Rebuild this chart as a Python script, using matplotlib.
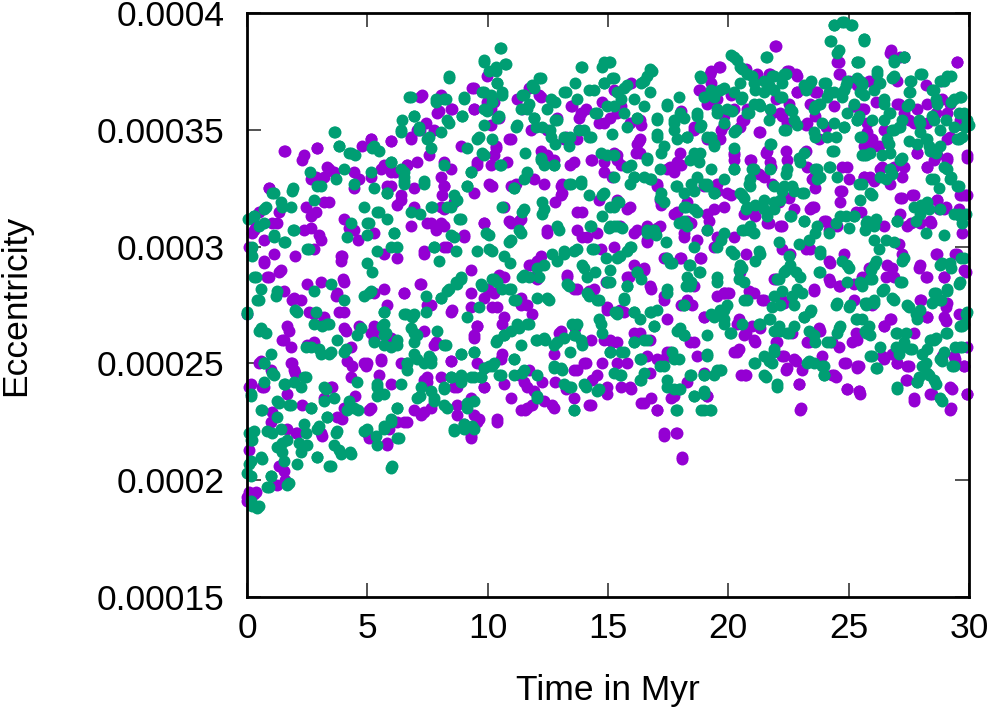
import matplotlib
matplotlib.use("Agg")
import matplotlib.pyplot as plt
import numpy as np

# eccentricity values are in units of 1e-6, time in Myr
violet_points = [
    (0.0, 271), (0.0, 193),
    (1.6, 341), (2.3, 337), (2.92, 342), (3.4, 333), (2.85, 330), (4.65, 329), (0.91, 325), (0.5, 315),
    (0.22, 306), (0.36, 309), (1.05, 310), (1.33, 315), (2.44, 317), (2.85, 315), (2.65, 308), (3.4, 319),
    (4.24, 308), (4.6, 303), (0.08, 300), (0.7, 293), (0.91, 287), (2.0, 296), (3.0, 305), (3.96, 296),
    (4.0, 286), (1.33, 289), (1.88, 277), (2.23, 277), (2.58, 272), (3.68, 279), (3.82, 272), (4.1, 264),
    (4.65, 266), (1.75, 264), (1.47, 260), (2.78, 259), (1.88, 250), (2.0, 246), (4.38, 249), (4.93, 249),
    (0.5, 250), (0.08, 240), (0.64, 240), (2.3, 232), (3.54, 240), (4.5, 236), (3.96, 226), (1.05, 229),
    (2.02, 220), (3.13, 219), (0.08, 213), (1.33, 206), (1.6, 200), (0.08, 195), (0.36, 195),
    (9.36, 368), (7.2, 364), (7.98, 358), (8.53, 359), (9.43, 359), (9.98, 362), (5.14, 346), (5.97, 345),
    (6.8, 347), (7.2, 350), (7.77, 350), (7.56, 339), (6.66, 335), (7.08, 336), (5.69, 335), (6.17, 332),
    (5.14, 330), (8.05, 330), (9.57, 335), (10.05, 327), (8.18, 326), (8.11, 322), (8.6, 319), (8.05, 317),
    (5.97, 326), (6.38, 322), (6.25, 318), (6.94, 317), (9.43, 323), (7.63, 310), (7.84, 307), (8.18, 309),
    (9.85, 310), (7.35, 298), (8.18, 300), (9.0, 305), (6.25, 295), (5.69, 297), (9.29, 290), (9.29, 280),
    (7.2, 284), (6.52, 280), (5.28, 280), (5.83, 275), (8.53, 273), (7.63, 275), (7.84, 259), (9.57, 266),
    (9.43, 262), (10.0, 282), (5.28, 266), (5.14, 263), (5.28, 260), (5.55, 252), (5.0, 250), (6.38, 250),
    (5.48, 245), (7.35, 243), (7.49, 242), (8.46, 251), (8.6, 240), (9.29, 235), (9.85, 240), (9.64, 226),
    (8.74, 228), (6.94, 230), (6.52, 225), (5.9, 222), (5.07, 230), (5.07, 218), (5.83, 216), (7.35, 229),
    (9.29, 219),
    (11.71, 368), (12.13, 365), (11.43, 359), (10.26, 362), (10.47, 355), (10.33, 342), (10.88, 346),
    (10.26, 339), (13.51, 360), (13.79, 355), (14.07, 359), (14.62, 353), (15.1, 355), (13.79, 350),
    (13.24, 347), (12.2, 341), (12.47, 339), (13.44, 335), (14.34, 337), (14.83, 332), (15.17, 330),
    (10.19, 326), (11.16, 327), (13.1, 327), (12.82, 319), (13.1, 323), (13.93, 315), (14.62, 320),
    (10.88, 311), (11.3, 311), (12.47, 307), (13.72, 307), (13.93, 304), (10.47, 288), (10.67, 287),
    (12.06, 286), (11.71, 292), (13.3, 287), (13.58, 282), (14.2, 281), (14.9, 285), (10.19, 274),
    (10.6, 267), (11.37, 275), (11.85, 271), (12.96, 263), (13.65, 265), (14.97, 273), (15.17, 259),
    (14.76, 250), (14.07, 250), (13.72, 247), (10.6, 254), (11.3, 245), (11.71, 247), (12.27, 242),
    (12.82, 242), (11.57, 230), (11.85, 232), (12.68, 232), (13.24, 239), (14.34, 243), (14.97, 237),
    (14.2, 232), (10.4, 226),
    (19.61, 377), (19.27, 375), (18.78, 367), (19.27, 370), (19.4, 363), (20.1, 365), (15.25, 367),
    (15.94, 370), (15.53, 360), (16.36, 352), (18.02, 358), (18.57, 350), (19.68, 350), (19.82, 352),
    (20.24, 339), (15.39, 339), (15.53, 335), (16.15, 340), (16.29, 345), (17.47, 333), (17.74, 332),
    (18.02, 335), (19.0, 326), (19.54, 327), (20.1, 322), (17.05, 327), (17.19, 318), (17.88, 315),
    (18.44, 310), (19.4, 316), (19.2, 311), (15.8, 316), (16.22, 307), (16.64, 303), (17.05, 308),
    (18.16, 304), (18.85, 295), (19.4, 300), (17.4, 295), (18.02, 295), (16.08, 292), (16.5, 291),
    (15.87, 287), (16.77, 282), (17.33, 279), (18.02, 275), (18.5, 275), (18.99, 270), (19.82, 280),
    (20.03, 280), (20.51, 267), (15.39, 259), (16.08, 263), (16.64, 253), (17.05, 252), (17.47, 255),
    (18.57, 259), (19.0, 246), (20.24, 255), (15.8, 250), (15.53, 240), (15.94, 239), (16.36, 233),
    (17.05, 230), (16.77, 235), (17.6, 235), (19.13, 236), (20.51, 245), (17.33, 220), (17.81, 220),
    (18.09, 210),
    (21.97, 386), (20.72, 376), (21.69, 374), (22.52, 375), (22.8, 374), (24.6, 379), (24.6, 374),
    (25.01, 371), (25.36, 369), (23.62, 366), (22.86, 366), (21.97, 363), (22.52, 361), (20.79, 359),
    (21.83, 357), (22.24, 356), (23.21, 352), (23.62, 356), (24.04, 351), (25.22, 360), (25.56, 359),
    (20.58, 354), (21.27, 349), (22.38, 341), (21.55, 340), (23.21, 341), (23.76, 346), (20.93, 337),
    (21.27, 331), (21.76, 334), (21.83, 327), (22.1, 319), (22.52, 321), (23.49, 329), (23.62, 325),
    (24.73, 334), (25.01, 329), (24.73, 324), (25.63, 330), (23.49, 317), (21.13, 313), (21.69, 310),
    (22.24, 309), (24.04, 311), (24.18, 307), (25.29, 315), (22.24, 299), (23.21, 299), (24.18, 294),
    (20.72, 297), (21.97, 286), (23.56, 281), (24.18, 286), (24.6, 283), (25.22, 284), (20.86, 281),
    (21.41, 277), (22.24, 277), (20.44, 269), (20.99, 266), (20.72, 263), (21.13, 259), (21.97, 259),
    (22.66, 263), (23.35, 259), (23.76, 265), (24.32, 259), (24.6, 257), (25.15, 259), (25.29, 263),
    (20.44, 256), (22.24, 253), (22.8, 251), (23.9, 253), (24.87, 250), (25.36, 248), (20.72, 245),
    (22.38, 247), (23.07, 247), (24.32, 245), (24.46, 244), (22.93, 241), (24.94, 239), (25.42, 238),
    (23.0, 231),
    (26.75, 384), (27.3, 381), (29.51, 379), (25.85, 371), (27.02, 371), (28.2, 369), (28.82, 371),
    (26.12, 362), (27.09, 361), (28.27, 361), (28.89, 363), (25.64, 359), (27.51, 354), (28.62, 357),
    (25.78, 349), (25.98, 346), (26.26, 343), (25.71, 341), (27.85, 340), (28.55, 337), (29.1, 338),
    (28.27, 334), (29.93, 338), (26.88, 334), (26.4, 334), (27.23, 330), (25.64, 330), (26.05, 328),
    (27.23, 321), (27.65, 322), (28.68, 320), (29.03, 317), (29.72, 322), (29.93, 322), (25.5, 315),
    (27.58, 310), (28.41, 310), (28.75, 316), (29.58, 316), (29.72, 306), (27.09, 301), (27.23, 297),
    (27.92, 291), (28.2, 287), (28.62, 297), (28.96, 287), (29.44, 297), (29.86, 289), (25.85, 291),
    (26.54, 287), (26.82, 291), (25.57, 287), (25.98, 275), (27.99, 277), (28.27, 270), (29.03, 274),
    (29.03, 268), (29.58, 271), (26.47, 266), (26.75, 269), (27.72, 263), (29.93, 257), (26.4, 253),
    (26.82, 254), (27.02, 250), (27.51, 249), (28.89, 253), (29.44, 252), (25.43, 249), (29.79, 249),
    (27.37, 243), (28.48, 237), (29.31, 239), (29.93, 237), (25.43, 238), (27.72, 234), (29.24, 231),
]

violet_points_upper = [
    (1.54, 341), (2.37, 339), (2.92, 342), (3.34, 334), (3.62, 332), (3.2, 330), (2.65, 329), (0.91, 325),
    (4.45, 332), (5.14, 346), (4.79, 343), (5.97, 345), (5.55, 333), (5.97, 332), (6.8, 346), (7.08, 350),
    (6.66, 335), (7.42, 353), (7.28, 365), (8.05, 365), (8.46, 359), (7.91, 357), (9.43, 368), (9.43, 359),
    (9.99, 373), (10.12, 352), (10.12, 359), (10.33, 343), (10.82, 336), (10.96, 346), (11.23, 363),
    (12.2, 364), (11.79, 350), (12.48, 350), (12.9, 355), (12.76, 337), (13.45, 360), (13.86, 357),
    (14.76, 362), (14.83, 353), (13.72, 346), (13.17, 346), (13.59, 336), (14.28, 337), (14.83, 336),
    (8.18, 336), (8.18, 326), (8.46, 333), (8.88, 343), (9.57, 336), (10.12, 335), (10.12, 326),
    (10.96, 326), (8.18, 316), (8.05, 310), (7.49, 310), (6.94, 325), (6.38, 320), (5.83, 326),
    (4.45, 325), (4.03, 312), (4.45, 307), (3.2, 319), (2.65, 313), (2.37, 307), (1.26, 310), (0.29, 307),
    (0.71, 303), (0.15, 299), (1.12, 297), (2.78, 299), (3.06, 303), (3.89, 296), (5.28, 306), (6.8, 309),
    (7.35, 297), (8.32, 300), (9.0, 304), (9.85, 310), (10.68, 317), (10.96, 310), (11.37, 312),
    (11.93, 329), (12.34, 327), (13.03, 322), (13.03, 326), (13.72, 315), (14.14, 304), (14.56, 306),
    (14.69, 299), (12.48, 306), (12.2, 296),
    (21.95, 386), (19.67, 377), (19.25, 374), (18.84, 367), (19.12, 361), (19.53, 363), (19.81, 356),
    (20.22, 359), (20.64, 354), (20.5, 351), (21.19, 374), (21.75, 374), (22.44, 375), (22.85, 373),
    (22.85, 366), (23.41, 361), (23.69, 366), (22.16, 357), (22.44, 353), (23.27, 353), (24.38, 360),
    (24.52, 379), (24.66, 374), (25.21, 360), (25.49, 359), (25.76, 353), (25.76, 346), (26.04, 343),
    (26.46, 350), (26.73, 383), (27.15, 381), (27.01, 361), (27.29, 357), (27.84, 359), (27.7, 353),
    (28.26, 353), (29.5, 379), (29.23, 361), (29.09, 357), (29.64, 354), (29.23, 347), (29.09, 346),
    (29.92, 339), (28.67, 339), (27.84, 340), (28.26, 334), (29.09, 337), (27.29, 334), (26.32, 333),
    (25.9, 330), (25.62, 343), (26.73, 327), (27.15, 321), (27.7, 322), (28.67, 320), (28.95, 316),
    (29.64, 322), (29.85, 322), (27.98, 310), (28.4, 311), (24.93, 334), (24.66, 324), (24.66, 319),
    (23.55, 330), (23.55, 317), (23.96, 311), (23.27, 334), (22.44, 337), (21.75, 336), (21.61, 341),
    (21.33, 349), (20.92, 337), (21.47, 330), (20.22, 340), (20.22, 337), (19.67, 346), (19.12, 346),
    (18.56, 351), (18.7, 339), (18.01, 340), (17.59, 334), (17.87, 336), (16.35, 346), (16.21, 344),
    (15.93, 353), (16.35, 354), (15.38, 357), (15.38, 337), (15.24, 340), (16.35, 340), (17.04, 326),
    (17.18, 320), (16.62, 309), (17.18, 309), (17.73, 314), (18.28, 319), (18.28, 311), (19.12, 314),
    (19.53, 324), (19.95, 323), (19.81, 317), (20.64, 314), (21.05, 317), (21.61, 310), (22.16, 309),
    (22.71, 316), (23.41, 316), (24.52, 309), (15.38, 320), (15.93, 317), (15.52, 309), (16.07, 306),
    (19.12, 307), (19.53, 304), (18.15, 306), (18.7, 303), (20.22, 304), (26.46, 309), (27.15, 314),
    (27.43, 309),
]

violet_points_lower = [
    (0.71, 294), (1.4, 290), (0.84, 287), (2.51, 284), (3.06, 285), (3.75, 280), (4.03, 285), (1.95, 278),
    (1.54, 281), (2.78, 271), (3.2, 270), (1.68, 266), (1.54, 260), (1.81, 257), (2.51, 258), (0.57, 251),
    (1.81, 250), (1.95, 247), (0.98, 247), (0.71, 240), (0.15, 241), (1.68, 237), (3.48, 240), (4.31, 244),
    (4.17, 251), (4.31, 257), (4.86, 250), (4.03, 265), (5.28, 264), (5.55, 251), (5.97, 261), (5.97, 241),
    (5.14, 231), (4.03, 231), (3.75, 227), (3.2, 235), (2.09, 220), (3.06, 220), (1.68, 222), (0.98, 225),
    (1.54, 204), (1.26, 198), (0.29, 194), (0.01, 191), (5.83, 215), (5.0, 220), (6.66, 225), (7.22, 228),
    (7.49, 244), (8.05, 244), (8.46, 251), (8.74, 232), (9.29, 218), (9.43, 228), (9.57, 225), (9.02, 224),
    (10.4, 225), (8.74, 240), (9.85, 240), (9.57, 250), (9.43, 261), (9.57, 266), (9.85, 278), (10.26, 280),
    (10.4, 274), (10.68, 270), (11.37, 278), (11.65, 275), (11.93, 287), (12.06, 294), (11.79, 292),
    (13.31, 288), (13.72, 282), (14.42, 282), (14.97, 274), (14.28, 260), (14.83, 260), (13.03, 264),
    (12.76, 254), (14.0, 250), (13.59, 247), (14.56, 245), (14.97, 240), (13.59, 235), (14.28, 232),
    (12.76, 231), (12.34, 234), (11.65, 231), (11.37, 230), (11.93, 238), (11.51, 242), (11.65, 240),
    (10.68, 241), (10.96, 235), (9.85, 248), (10.54, 252), (7.35, 264), (7.77, 258), (8.46, 272),
    (9.3, 274), (7.22, 284), (6.52, 280), (7.49, 275), (7.63, 231), (6.25, 225), (4.03, 272), (5.69, 282),
    (3.89, 294), (3.06, 267),
    (15.24, 300), (16.62, 302), (15.79, 287), (16.48, 290), (16.76, 283), (17.32, 295), (18.01, 295),
    (18.84, 295), (18.56, 283), (18.28, 277), (17.32, 277), (17.45, 269), (16.35, 263), (16.76, 260),
    (15.51, 273), (15.65, 272), (15.1, 260), (15.38, 250), (15.93, 240), (16.48, 233), (17.04, 230),
    (16.76, 246), (17.32, 252), (17.59, 255), (18.42, 259), (18.7, 253), (18.28, 242), (17.73, 236),
    (19.12, 236), (17.32, 219), (17.87, 220), (18.08, 209), (18.98, 270), (19.53, 279), (19.95, 280),
    (20.36, 267), (20.36, 255), (20.71, 245), (20.64, 262), (21.05, 260), (21.33, 265), (20.92, 280),
    (21.47, 277), (21.89, 286), (22.3, 276), (22.02, 259), (22.3, 253), (22.44, 248), (22.71, 252),
    (22.99, 230), (22.92, 241), (23.27, 259), (23.55, 282), (23.83, 264), (24.24, 285), (24.38, 245),
    (24.8, 297), (24.8, 250), (24.93, 239), (25.21, 277), (25.35, 260), (25.49, 237), (25.35, 249),
    (26.46, 266), (26.73, 269), (26.46, 252), (27.01, 250), (27.43, 249), (27.43, 243), (27.7, 235),
    (28.4, 237), (29.23, 230), (29.23, 240), (29.92, 237), (29.78, 249), (29.37, 253), (28.95, 270),
    (29.09, 276), (27.98, 277), (28.26, 270), (27.98, 292), (28.67, 297), (29.5, 297), (29.78, 290),
    (28.95, 287), (28.26, 287), (26.59, 292), (26.87, 287), (25.76, 287), (24.66, 283), (24.24, 293),
    (22.58, 297), (23.41, 299), (21.05, 280), (20.5, 289), (19.81, 280),
]

green_points = [
    (3.64, 349), (3.82, 343), (4.24, 340), (4.5, 339), (2.6, 332), (2.9, 326), (1.9, 325), (1.05, 323),
    (0.29, 313), (0.78, 317), (1.47, 317), (0.5, 309), (1.12, 305), (1.6, 302), (1.9, 307), (2.58, 299),
    (0.22, 296), (0.36, 287), (0.5, 277), (0.0, 272), (1.19, 279), (2.0, 273), (2.85, 272), (3.13, 266),
    (3.4, 267), (0.5, 264), (0.78, 263), (2.44, 257), (3.0, 256), (3.4, 254), (4.1, 256), (0.7, 250),
    (1.05, 246), (1.6, 241), (2.44, 244), (3.27, 239), (4.24, 234), (4.6, 230), (0.15, 236), (0.64, 230),
    (1.33, 233), (1.75, 232), (2.65, 231), (3.34, 227), (0.08, 220), (0.22, 217), (1.05, 220), (1.47, 216),
    (2.16, 216), (2.44, 220), (3.0, 223), (3.68, 220), (3.82, 213), (4.3, 212), (0.08, 207), (0.64, 209),
    (1.47, 212), (1.75, 199), (0.98, 202), (2.92, 210), (3.4, 206), (0.22, 189), (0.5, 189), (0.91, 197),
    (0.0, 203), (0.05, 312), (0.2, 300),
    (9.85, 380), (8.39, 373), (6.8, 364), (7.84, 363), (8.18, 363), (9.0, 364), (9.78, 366), (10.05, 375),
    (6.45, 354), (6.94, 356), (7.15, 350), (7.56, 347), (8.05, 349), (8.39, 353), (8.95, 356), (9.64, 347),
    (9.98, 358), (6.38, 349), (5.28, 343), (5.48, 341), (5.97, 336), (6.52, 332), (5.14, 332), (5.28, 325),
    (5.83, 323), (6.52, 328), (7.35, 328), (9.15, 342), (9.29, 332), (9.78, 340), (9.15, 326), (8.6, 322),
    (8.32, 317), (7.7, 317), (7.2, 314), (6.8, 315), (5.48, 315), (5.83, 312), (5.07, 310), (5.0, 305),
    (6.1, 306), (6.25, 300), (5.41, 298), (7.77, 300), (8.46, 305), (8.88, 312), (7.98, 294), (8.67, 298),
    (10.05, 305), (9.57, 298), (5.0, 293), (5.2, 289), (5.07, 280), (7.42, 279), (8.05, 278), (8.39, 282),
    (8.88, 286), (9.78, 283), (10.26, 286), (8.67, 285), (5.69, 272), (6.59, 271), (6.87, 270), (7.42, 272),
    (9.15, 270), (9.64, 274), (5.62, 266), (5.76, 263), (5.28, 259), (5.69, 258), (6.25, 260), (6.94, 263),
    (6.94, 259), (8.25, 258), (8.88, 254), (9.43, 255), (6.66, 250), (7.08, 252), (7.56, 253), (7.63, 250),
    (6.66, 247), (8.46, 244), (8.88, 245), (9.29, 244), (9.71, 244), (10.05, 249), (5.41, 241), (5.41, 236),
    (6.38, 241), (7.2, 236), (7.77, 235), (8.18, 239), (8.18, 232), (9.15, 233), (9.0, 222), (9.36, 223),
    (8.6, 222), (6.25, 231), (5.97, 226), (5.69, 223), (5.0, 222), (5.35, 219), (6.31, 218), (6.04, 206),
    (10.53, 385), (10.33, 377), (10.74, 378), (10.4, 370), (10.6, 365), (12.13, 372), (11.85, 369),
    (11.43, 365), (13.93, 377), (13.65, 370), (14.76, 377), (15.04, 379), (15.17, 372), (14.83, 370),
    (14.2, 367), (13.24, 366), (12.82, 362), (12.47, 359), (11.92, 355), (11.71, 361), (11.37, 359),
    (11.16, 351), (10.47, 356), (10.19, 362), (10.19, 346), (12.0, 351), (12.27, 351), (12.82, 354),
    (13.44, 347), (13.79, 350), (14.2, 347), (14.48, 357), (14.97, 360), (15.17, 348), (14.69, 340),
    (14.97, 339), (10.53, 335), (11.57, 340), (12.2, 338), (12.33, 335), (12.75, 335), (12.82, 344),
    (12.61, 350), (13.37, 343), (11.5, 329), (11.09, 325), (12.27, 319), (13.37, 327), (13.86, 328),
    (14.2, 322), (14.83, 323), (15.1, 317), (10.6, 317), (11.43, 315), (11.3, 307), (12.27, 314),
    (12.96, 307), (14.27, 309), (14.76, 313), (15.04, 308), (10.88, 302), (10.19, 298), (10.67, 296),
    (10.95, 293), (11.43, 287), (11.71, 287), (12.68, 297), (13.17, 297), (13.58, 298), (14.34, 299),
    (14.9, 295), (13.93, 292), (14.13, 287), (14.48, 289), (14.97, 285), (10.19, 286), (10.6, 282),
    (10.88, 282), (11.16, 277), (12.13, 287), (12.33, 292), (12.54, 277), (13.37, 283), (14.2, 279),
    (14.62, 277), (15.31, 272), (10.33, 259), (10.67, 262), (11.3, 265), (11.71, 267), (12.0, 260),
    (12.4, 260), (12.89, 259), (13.51, 267), (13.65, 262), (13.44, 255), (13.93, 258), (14.62, 269),
    (14.76, 263), (15.1, 255), (10.19, 249), (10.47, 245), (11.09, 252), (11.43, 246), (12.75, 249),
    (13.1, 247), (13.37, 240), (12.06, 236), (13.58, 230), (14.62, 239), (14.07, 240),
    (16.84, 375), (16.64, 373), (20.1, 382), (20.37, 380), (18.85, 372), (15.25, 372), (15.67, 368),
    (16.36, 370), (15.53, 363), (16.5, 360), (17.47, 360), (17.95, 364), (17.05, 355), (17.74, 354),
    (18.16, 355), (18.71, 356), (19.27, 367), (19.82, 368), (20.51, 363), (19.54, 357), (20.17, 358),
    (15.8, 351), (16.22, 355), (17.05, 347), (17.74, 350), (18.3, 347), (18.85, 352), (19.27, 347),
    (19.4, 343), (20.3, 350), (20.24, 342), (15.94, 335), (16.64, 338), (17.19, 340), (18.57, 340),
    (18.78, 336), (19.27, 333), (20.24, 333), (16.08, 330), (16.77, 329), (17.81, 326), (18.44, 327),
    (19.0, 327), (19.4, 323), (17.19, 323), (17.33, 319), (18.23, 317), (18.71, 315), (17.95, 310),
    (19.13, 307), (15.46, 319), (15.25, 309), (15.6, 308), (16.64, 307), (16.98, 305), (17.4, 302),
    (18.57, 300), (15.94, 300), (15.8, 298), (15.39, 295), (17.67, 293), (18.37, 292), (18.78, 289),
    (19.68, 303), (20.1, 298), (19.54, 300), (20.44, 290), (19.54, 287), (15.8, 283), (16.22, 289),
    (16.36, 286), (15.67, 277), (16.08, 272), (15.39, 272), (17.47, 280), (18.16, 275), (18.23, 283),
    (18.44, 285), (16.91, 266), (16.77, 272), (17.88, 264), (18.16, 262), (19.27, 271), (19.82, 273),
    (19.82, 267), (20.1, 263), (16.08, 259), (16.5, 260), (15.53, 255), (16.36, 252), (16.36, 243),
    (17.33, 249), (17.67, 255), (17.95, 252), (18.44, 245), (19.13, 254), (19.4, 245), (19.68, 247),
    (19.0, 245), (17.47, 240), (17.95, 239), (18.57, 236), (19.0, 238), (17.81, 230), (18.85, 230),
    (19.27, 230), (15.53, 245),
    (24.39, 395), (24.73, 396), (25.08, 395), (24.25, 388), (25.63, 389), (24.6, 384), (25.36, 379),
    (21.55, 381), (20.58, 376), (20.99, 373), (21.83, 373), (22.38, 374), (21.13, 367), (21.69, 369),
    (22.24, 370), (23.42, 371), (24.04, 370), (24.87, 369), (25.36, 372), (25.56, 369), (23.21, 367),
    (24.18, 366), (24.73, 364), (20.58, 364), (21.27, 361), (20.86, 357), (21.69, 354), (22.66, 358),
    (23.76, 361), (23.62, 360), (25.36, 354), (22.24, 364), (23.9, 353), (22.38, 350), (22.86, 352),
    (24.8, 351), (24.46, 347), (25.56, 347), (23.62, 347), (21.76, 344), (24.32, 341), (25.56, 339),
    (22.93, 338), (20.99, 333), (20.86, 327), (22.38, 331), (23.62, 333), (23.69, 329), (24.18, 334),
    (24.53, 330), (22.24, 324), (22.66, 326), (23.07, 323), (25.42, 327), (20.58, 322), (20.72, 316),
    (21.13, 318), (21.48, 316), (21.9, 319), (22.59, 313), (23.14, 311), (23.62, 306), (24.18, 306),
    (24.46, 310), (24.87, 313), (25.22, 313), (25.01, 308), (25.7, 307), (20.58, 307), (20.86, 307),
    (21.06, 306), (22.1, 302), (22.93, 301), (23.35, 303), (23.83, 298), (21.27, 298), (21.13, 294),
    (22.52, 296), (22.8, 289), (22.38, 290), (22.1, 286), (23.76, 289), (24.73, 294), (25.01, 291),
    (20.58, 291), (20.44, 286), (20.65, 277), (21.83, 274), (22.24, 281), (22.66, 279), (23.07, 280),
    (24.46, 275), (25.01, 274), (25.29, 269), (25.7, 276), (20.58, 267), (21.27, 267), (21.69, 269),
    (22.1, 266), (22.52, 263), (23.14, 270), (23.42, 273), (23.35, 264), (23.62, 259), (24.11, 259),
    (24.6, 265), (25.7, 264), (21.13, 250), (21.69, 251), (21.83, 250), (23.35, 251), (23.9, 249),
    (23.97, 245), (21.55, 244), (22.03, 241),
    (25.64, 388), (25.43, 379), (26.19, 375), (26.88, 380), (27.3, 381), (26.82, 372), (27.58, 371),
    (28.06, 374), (25.57, 370), (26.26, 370), (27.51, 366), (28.48, 367), (28.96, 371), (29.24, 373),
    (25.64, 365), (26.47, 361), (27.51, 361), (28.62, 363), (29.24, 362), (29.65, 364), (26.68, 357),
    (25.98, 354), (25.43, 356), (27.23, 354), (27.92, 354), (28.48, 356), (29.03, 354), (29.58, 357),
    (29.93, 354), (30.0, 352), (26.82, 350), (27.09, 351), (27.51, 345), (28.2, 346), (28.34, 343),
    (29.58, 346), (29.72, 347), (25.71, 339), (26.4, 339), (26.68, 344), (27.23, 338), (28.62, 340),
    (28.96, 334), (29.24, 330), (29.58, 326), (26.54, 329), (26.82, 331), (28.41, 329), (28.75, 325),
    (25.57, 327), (25.98, 322), (27.99, 318), (28.34, 316), (29.58, 314), (29.86, 314), (29.72, 310),
    (25.71, 310), (26.12, 312), (27.02, 311), (27.79, 311), (28.2, 306), (28.96, 305), (26.05, 303),
    (26.54, 303), (26.88, 302), (26.26, 299), (26.12, 294), (27.23, 294), (25.91, 290), (28.89, 293),
    (29.24, 291), (29.65, 295), (29.58, 284), (25.57, 283), (25.98, 286), (26.4, 281), (26.82, 278),
    (27.23, 285), (28.62, 280), (29.1, 281), (25.71, 275), (26.05, 277), (27.51, 274), (27.79, 271),
    (28.48, 276), (28.82, 277), (29.86, 271), (29.72, 266), (25.57, 269), (25.71, 263), (25.85, 266),
    (26.95, 263), (27.23, 257), (27.37, 263), (28.06, 254), (28.41, 260), (28.62, 261), (29.03, 263),
    (29.44, 257), (29.72, 257), (26.95, 257), (27.09, 254), (25.98, 253), (26.12, 248), (27.65, 256),
    (28.06, 249), (28.2, 250), (28.89, 251), (27.92, 244), (28.34, 245), (28.62, 241), (27.02, 240),
    (28.89, 234), (27.85, 242), (29.31, 249),
]

green_points_upper = [
    (3.62, 349), (3.82, 343), (4.31, 340), (4.03, 333), (4.45, 327), (3.68, 329), (5.21, 342), (5.97, 336),
    (6.38, 333), (6.52, 327), (6.38, 350), (6.94, 356), (7.15, 351), (7.49, 346), (7.63, 342), (6.73, 364),
    (7.84, 362), (8.25, 363), (8.32, 354), (8.95, 356), (9.02, 363), (8.39, 372), (9.85, 379), (10.54, 385),
    (10.75, 378), (10.33, 375), (10.4, 370), (9.85, 366), (10.12, 365), (10.61, 366), (9.85, 359),
    (10.4, 355), (9.85, 352), (9.57, 346), (11.23, 352), (11.65, 359), (11.93, 368), (12.2, 372),
    (11.51, 365), (11.93, 355), (12.62, 363), (12.9, 354), (13.17, 366), (12.62, 347), (13.17, 347),
    (13.72, 363), (14.42, 367), (13.86, 377), (14.83, 379), (14.83, 370), (14.56, 357), (14.0, 350),
    (14.28, 347), (12.2, 337), (12.76, 335), (11.65, 332), (11.09, 325), (9.85, 339), (10.54, 335),
    (9.16, 326), (9.3, 332), (8.74, 320), (8.46, 317), (7.63, 317), (8.18, 335), (7.35, 327), (6.52, 330),
    (5.83, 323), (5.41, 315), (4.86, 317), (5.0, 310), (4.31, 310), (2.78, 320), (3.06, 326), (1.88, 324),
    (1.12, 323), (1.4, 319), (1.81, 317), (0.71, 316), (0.29, 313), (0.71, 310), (1.12, 304), (1.95, 307),
    (1.54, 302), (2.51, 299), (4.17, 304), (5.97, 300), (6.11, 306), (8.6, 304), (7.77, 300), (8.81, 312),
    (9.92, 306), (10.06, 299), (10.96, 303), (11.51, 316), (11.37, 306), (12.34, 316), (12.9, 309),
    (13.17, 298), (13.72, 299), (14.42, 299), (14.76, 322), (14.28, 309), (13.45, 327), (13.86, 327),
    (15.1, 379), (16.76, 376), (16.48, 371), (15.79, 369), (15.38, 366), (16.76, 366), (16.07, 363),
    (15.24, 360), (15.65, 357), (16.21, 355), (17.04, 354), (17.45, 361), (18.01, 357), (17.73, 353),
    (17.04, 348), (17.87, 346), (18.28, 347), (18.7, 357), (18.84, 351), (19.12, 347), (19.39, 344),
    (18.84, 340), (18.42, 337), (20.22, 381), (20.5, 377), (20.78, 374), (20.5, 370), (20.22, 366),
    (19.67, 367), (19.39, 364), (18.98, 364), (18.84, 373), (19.53, 359), (19.95, 359), (19.81, 353),
    (20.22, 349), (20.78, 357), (21.05, 361), (21.05, 370), (21.47, 371), (21.89, 373), (22.3, 374),
    (21.47, 366), (21.89, 367), (22.16, 364), (21.61, 381), (21.33, 360), (21.75, 359), (22.58, 359),
    (22.71, 354), (22.3, 350), (23.13, 369), (23.41, 370), (23.96, 370), (24.1, 364), (23.83, 361),
    (23.55, 359), (24.38, 366), (24.8, 367), (24.93, 371), (24.52, 383), (24.24, 388), (24.38, 395),
    (24.8, 396), (25.14, 395), (25.63, 389), (25.35, 379), (25.49, 371), (25.49, 366), (25.21, 361),
    (24.93, 357), (24.8, 351), (24.38, 353), (25.35, 354), (26.04, 367), (26.18, 374), (26.32, 370),
    (26.87, 379), (27.29, 381), (26.87, 373), (26.46, 363), (26.73, 357), (26.46, 354), (26.87, 350),
    (27.15, 351), (27.57, 371), (27.98, 374), (27.57, 366), (27.43, 360), (27.98, 353), (27.98, 349),
    (28.26, 346), (28.53, 367), (28.81, 371), (29.09, 373), (28.67, 361), (28.53, 354), (28.81, 350),
    (29.37, 363), (29.64, 364), (29.78, 357), (29.85, 351), (29.5, 346), (29.37, 351), (28.81, 343),
    (28.4, 341), (27.84, 344), (27.15, 337), (26.73, 340), (26.59, 346), (26.73, 333), (25.9, 340),
    (25.62, 339), (25.49, 347), (24.1, 347), (24.38, 341), (23.55, 349), (23.13, 340), (23.69, 333),
    (23.83, 330), (24.24, 334), (22.99, 336), (22.44, 333), (22.3, 326), (22.71, 324), (23.13, 323),
    (21.75, 344), (21.75, 333), (21.89, 326), (21.05, 333), (20.92, 329), (20.92, 326), (20.22, 333),
    (19.81, 329), (19.39, 323), (19.12, 327), (18.56, 324), (18.15, 323), (17.87, 326), (17.18, 321),
    (16.76, 329), (16.48, 330), (16.07, 330), (15.93, 327), (15.79, 334), (15.24, 339), (15.24, 330),
    (15.24, 317), (15.38, 319), (16.62, 337), (17.32, 343), (17.18, 333), (18.7, 330), (20.5, 323),
    (20.78, 317), (20.64, 321), (21.47, 320), (22.16, 320), (21.89, 316), (21.61, 313), (22.58, 313),
    (23.13, 311), (23.69, 309), (24.66, 313), (25.21, 313), (25.76, 311), (26.04, 309), (27.01, 311),
    (25.49, 320), (25.9, 323), (26.32, 330), (27.7, 317), (27.98, 314), (28.26, 319), (28.81, 316),
    (29.37, 314), (29.64, 313), (29.5, 326), (29.23, 329), (28.53, 329), (29.09, 333), (18.15, 317),
    (18.28, 309), (18.15, 311), (16.9, 307), (16.62, 306), (15.38, 309), (15.1, 309), (18.56, 316),
    (19.12, 326), (19.81, 306), (20.92, 309), (20.64, 307),
]

green_points_lower = [
    (0.29, 287), (0.57, 282), (0.43, 277), (1.26, 281), (2.78, 281), (3.48, 284), (4.03, 277), (4.86, 279),
    (5.14, 281), (2.09, 272), (2.78, 267), (3.34, 267), (3.75, 260), (2.65, 257), (3.06, 254), (3.48, 255),
    (4.03, 255), (4.58, 262), (4.72, 265), (5.69, 272), (5.69, 267), (5.69, 262), (6.25, 258), (5.97, 257),
    (6.52, 271), (6.94, 271), (6.8, 265), (7.08, 262), (6.66, 250), (6.94, 254), (7.63, 252), (7.35, 250),
    (7.91, 264), (8.18, 258), (8.88, 287), (8.32, 281), (8.05, 278), (8.74, 284), (9.71, 284), (10.4, 285),
    (10.96, 282), (11.09, 277), (12.06, 278), (12.48, 278), (11.51, 288), (12.06, 291), (12.9, 294),
    (14.0, 291), (13.31, 284), (14.14, 280), (14.56, 277), (14.97, 285), (14.69, 267), (13.72, 267),
    (13.59, 262), (13.86, 260), (13.17, 261), (12.76, 258), (12.34, 261), (12.06, 260), (11.65, 267),
    (11.23, 267), (10.96, 264), (10.68, 262), (10.4, 260), (11.37, 258), (11.09, 252), (8.88, 254),
    (9.43, 255), (9.85, 248), (10.26, 250), (10.54, 245), (11.09, 245), (11.51, 247), (12.06, 245),
    (12.76, 248), (13.03, 248), (13.17, 241), (13.45, 240), (14.0, 241), (14.56, 238), (12.06, 235),
    (13.59, 230), (8.46, 244), (8.88, 242), (9.43, 244), (9.71, 244), (8.18, 240), (7.63, 238), (7.22, 240),
    (7.08, 235), (7.77, 234), (8.32, 231), (9.16, 231), (9.43, 234), (8.6, 221), (9.02, 224), (9.43, 222),
    (6.25, 231), (5.97, 225), (5.69, 222), (6.25, 218), (4.86, 221), (5.41, 215), (5.97, 205), (4.45, 231),
    (5.41, 240), (5.69, 237), (4.58, 242), (4.17, 230), (2.37, 224), (2.92, 222), (3.34, 227), (3.75, 221),
    (3.89, 211), (4.31, 211), (3.62, 215), (2.92, 210), (3.48, 206), (2.23, 212), (2.51, 215), (1.26, 214),
    (1.54, 208), (2.09, 207), (0.98, 202), (1.68, 198), (0.84, 197), (0.57, 210), (0.15, 208), (0.15, 202),
    (0.15, 217), (0.29, 221), (0.84, 221), (1.4, 222), (1.68, 217), (0.57, 230), (1.26, 227), (1.26, 234),
    (1.81, 232), (2.65, 231), (3.2, 240), (3.2, 234), (3.62, 235), (2.23, 240), (1.54, 241), (1.95, 242),
    (2.37, 244), (1.12, 245), (0.71, 242), (0.15, 237), (0.98, 254), (0.71, 250), (0.57, 265), (0.01, 271),
    (0.15, 191), (0.43, 188),
    (15.93, 300), (15.51, 296), (15.1, 290), (15.1, 285), (16.21, 289), (15.79, 283), (15.65, 278),
    (17.45, 295), (17.59, 293), (18.42, 292), (18.84, 289), (18.28, 287), (18.42, 283), (17.45, 282),
    (18.15, 275), (17.04, 273), (16.76, 272), (16.35, 269), (16.9, 266), (15.38, 271), (16.07, 272),
    (16.62, 260), (16.07, 259), (15.65, 255), (15.1, 255), (16.35, 252), (16.48, 246), (16.35, 243),
    (15.51, 245), (15.24, 246), (17.18, 249), (17.73, 252), (17.45, 243), (17.73, 239), (18.01, 239),
    (18.42, 245), (18.56, 236), (18.98, 237), (18.98, 245), (19.12, 253), (19.53, 247), (19.67, 247),
    (17.87, 230), (18.98, 230), (19.25, 230), (18.01, 265), (18.15, 262), (19.12, 262), (19.39, 270),
    (19.67, 273), (19.81, 269), (20.08, 263), (19.95, 275), (19.53, 285), (20.22, 297), (20.5, 292),
    (20.64, 285), (20.78, 277), (21.33, 297), (21.33, 267), (21.75, 269), (21.47, 253), (21.89, 255),
    (21.05, 250), (21.47, 245), (22.02, 240), (21.89, 256), (21.89, 264), (22.16, 264), (22.44, 263),
    (22.71, 266), (22.16, 275), (21.89, 279), (22.02, 286), (22.3, 289), (22.58, 292), (22.99, 287),
    (22.85, 282), (22.71, 275), (23.13, 270), (23.41, 272), (23.55, 262), (23.27, 250), (23.55, 250),
    (23.96, 249), (23.96, 245), (23.83, 289), (23.83, 297), (24.52, 276), (24.52, 263), (24.66, 266),
    (24.24, 259), (24.93, 292), (25.07, 275), (25.35, 269), (24.93, 285), (25.49, 285), (25.9, 286),
    (26.04, 292), (25.76, 276), (26.04, 276), (25.76, 264), (25.9, 262), (25.9, 253), (26.32, 257),
    (26.18, 248), (26.46, 282), (26.87, 277), (27.15, 285), (27.29, 295), (27.01, 263), (27.15, 256),
    (27.29, 259), (27.57, 256), (27.43, 275), (27.84, 269), (27.98, 273), (27.01, 239), (27.84, 242),
    (28.26, 246), (28.53, 243), (28.26, 256), (28.4, 260), (28.53, 260), (28.95, 255), (28.81, 252),
    (29.09, 263), (29.64, 266), (29.92, 272), (29.78, 267), (29.64, 257), (29.37, 249), (28.81, 277),
    (28.53, 280), (29.09, 282), (29.64, 285), (28.81, 292), (29.23, 293), (29.78, 295), (28.81, 235),
]

x_ticks = [0, 5, 10, 15, 20, 25, 30]
y_ticks = [0.00015, 0.0002, 0.00025, 0.0003, 0.00035, 0.0004]
y_tick_labels = ["0.00015", "0.0002", "0.00025", "0.0003", "0.00035", "0.0004"]

plt.rcParams['font.family'] = ['Liberation Sans', 'DejaVu Sans']

fig = plt.figure(figsize=(9.93, 7.10), dpi=100)
ax = fig.add_axes([0.2487, 0.1592, 0.7271, 0.8225])

violet = np.array(violet_points + violet_points_upper + violet_points_lower)
green = np.array(green_points + green_points_upper + green_points_lower)
ax.plot(violet[:, 0], violet[:, 1] * 1e-6, 'o', color='#9400d3', ms=8.6, mew=0,
        clip_on=False, zorder=2)
ax.plot(green[:, 0], green[:, 1] * 1e-6, 'o', color='#009e73', ms=8.6, mew=0,
        clip_on=False, zorder=3)

ax.set_xlim(0, 30)
ax.set_ylim(0.00015, 0.0004)
ax.set_xticks(x_ticks)
ax.set_yticks(y_ticks)
ax.set_yticklabels(y_tick_labels)
ax.tick_params(direction='in', length=10, width=1.3, color='#444444',
               top=True, right=True, labelsize=25.5, labelcolor='black')
ax.tick_params(axis='x', pad=11)
ax.tick_params(axis='y', pad=16)
for s in ax.spines.values():
    s.set_linewidth(2)
    s.set_zorder(4)

ax.set_xlabel("Time in Myr", fontsize=25.5, labelpad=21)
ax.set_ylabel("Eccentricity", fontsize=25.5, labelpad=47)

fig.savefig("out.png", dpi=100)
